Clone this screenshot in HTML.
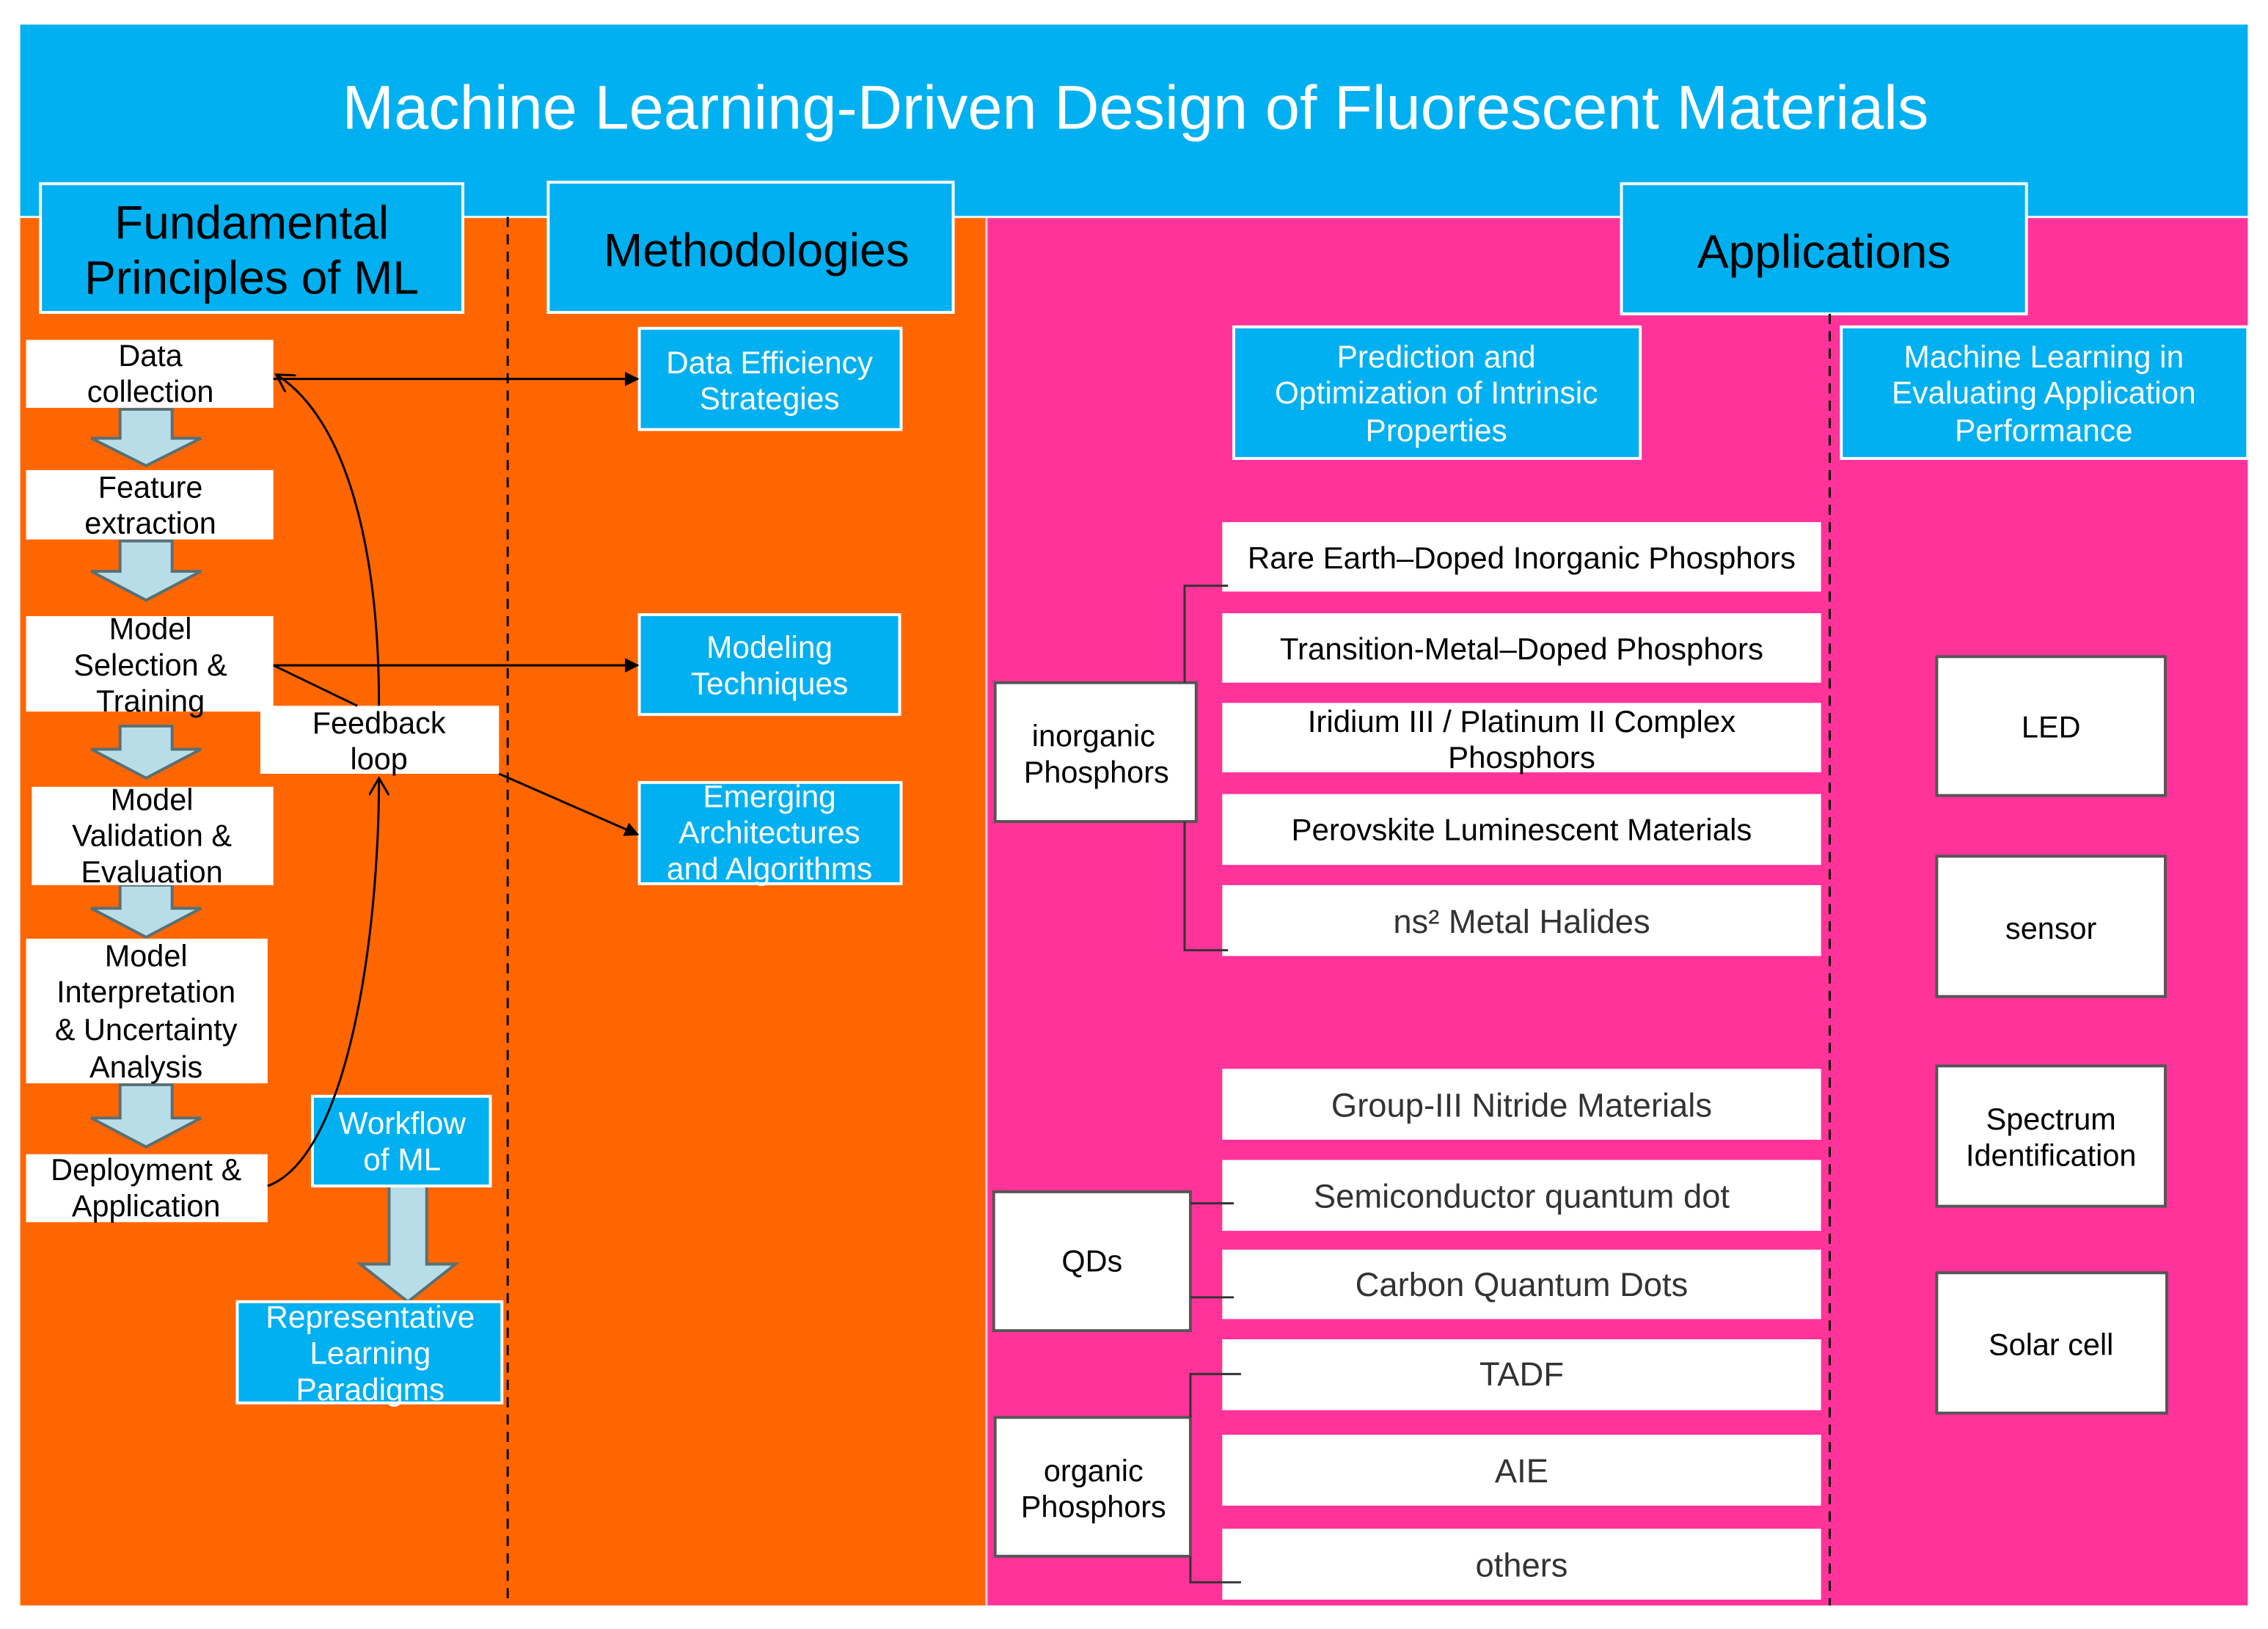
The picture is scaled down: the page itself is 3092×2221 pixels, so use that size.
<!DOCTYPE html>
<html><head><meta charset="utf-8"><style>
html,body{margin:0;padding:0;background:#fff;}
svg{display:block;}
text{font-family:"Liberation Sans",Arial,sans-serif;}
</style></head><body>
<svg width="3092" height="2221" viewBox="0 0 1568 1126.3" preserveAspectRatio="none" xmlns="http://www.w3.org/2000/svg">
<defs>
<marker id="ah" markerWidth="10" markerHeight="10" refX="9" refY="5" orient="auto" markerUnits="userSpaceOnUse"><path d="M0,0 L10,5 L0,10 z" fill="#000"/></marker>
<marker id="oa" markerWidth="14" markerHeight="14" refX="12" refY="7" orient="auto" markerUnits="userSpaceOnUse"><path d="M0,0 L12,7 L0,14" fill="none" stroke="#000" stroke-width="1.5"/></marker>
</defs>
<rect x="0" y="0" width="1568" height="1126.3" fill="#fff"/>
<rect x="14" y="17" width="1540" height="133" fill="#00B0F0"/>
<rect x="14" y="150" width="668" height="960" fill="#FF6600"/>
<rect x="682" y="150" width="872" height="960" fill="#FF3399"/>
<line x1="682" y1="150" x2="682" y2="1110" stroke="#ffd0e0" stroke-width="1.5"/>
<line x1="14" y1="150" x2="1554" y2="150" stroke="#fff" stroke-width="1.5"/>
<text x="785" y="89" font-size="43" fill="#fff" text-anchor="middle">Machine Learning-Driven Design of Fluorescent Materials</text>

<g fill="#00B0F0" stroke="#fff" stroke-width="2">
<rect x="28" y="127" width="292" height="89"/>
<rect x="379" y="126" width="280" height="90"/>
<rect x="1121" y="127" width="280" height="90"/>
</g>
<g font-size="32.5" fill="#000" text-anchor="middle">
<text x="174" y="165">Fundamental</text><text x="174" y="203">Principles of ML</text>
<text x="523" y="184">Methodologies</text>
<text x="1261" y="185">Applications</text>
</g>

<line x1="351" y1="150" x2="351" y2="1110" stroke="#000" stroke-width="1.5" stroke-dasharray="7,5"/>
<line x1="1265" y1="217" x2="1265" y2="1110" stroke="#000" stroke-width="1.5" stroke-dasharray="7,5"/>

<g fill="#B7DEE8" stroke="#5a6f73" stroke-width="2">
<path d="M83,283 H119 V303 H139 L101,322 L63,303 H83 Z"/>
<path d="M83,374 H119 V395 H139 L101,415 L63,395 H83 Z"/>
<path d="M83,502 H119 V518 H139 L101,538 L63,518 H83 Z"/>
<path d="M83,612 H119 V628 H139 L101,648 L63,628 H83 Z"/>
<path d="M83,750 H119 V773 H139 L101,793 L63,773 H83 Z"/>
<path d="M269,820 H295 V874 H315 L282,900 L249,874 H269 Z"/>
</g>

<g fill="#fff">
<rect x="18" y="235" width="171" height="47"/>
<rect x="18" y="325" width="171" height="48"/>
<rect x="18" y="426" width="171" height="66"/>
<rect x="22" y="544" width="167" height="68"/>
<rect x="18" y="649" width="167" height="100"/>
<rect x="18" y="798" width="167" height="47"/>
<rect x="180" y="488" width="165" height="47"/>
</g>
<g font-size="21" fill="#000" text-anchor="middle">
<text x="104" y="253">Data</text><text x="104" y="278">collection</text>
<text x="104" y="344">Feature</text><text x="104" y="369">extraction</text>
<text x="104" y="442">Model</text><text x="104" y="467">Selection &amp;</text><text x="104" y="492">Training</text>
<text x="105" y="560">Model</text><text x="105" y="585">Validation &amp;</text><text x="105" y="610">Evaluation</text>
<text x="101" y="668">Model</text><text x="101" y="693">Interpretation</text><text x="101" y="719">&amp; Uncertainty</text><text x="101" y="745">Analysis</text>
<text x="101" y="816">Deployment &amp;</text><text x="101" y="841">Application</text>
<text x="262" y="507">Feedback</text><text x="262" y="532">loop</text>
</g>

<g fill="#00B0F0" stroke="#fff" stroke-width="2">
<rect x="442" y="227" width="181" height="70"/>
<rect x="442" y="425" width="180" height="69"/>
<rect x="442" y="541" width="181" height="70"/>
<rect x="216" y="758" width="123" height="62"/>
<rect x="164" y="900" width="183" height="70"/>
<rect x="853" y="226" width="281" height="91"/>
<rect x="1273" y="226" width="281" height="91"/>
</g>
<g font-size="21.5" fill="#fff" text-anchor="middle">
<text x="532" y="258">Data Efficiency</text><text x="532" y="283">Strategies</text>
<text x="532" y="455">Modeling</text><text x="532" y="480">Techniques</text>
<text x="532" y="558">Emerging</text><text x="532" y="583">Architectures</text><text x="532" y="608">and Algorithms</text>
<text x="278" y="784">Workflow</text><text x="278" y="809">of ML</text>
<text x="256" y="918">Representative</text><text x="256" y="943">Learning</text><text x="256" y="968">Paradigms</text>
<text x="993" y="254">Prediction and</text><text x="993" y="279">Optimization of Intrinsic</text><text x="993" y="305">Properties</text>
<text x="1413" y="254">Machine Learning in</text><text x="1413" y="279">Evaluating Application</text><text x="1413" y="305">Performance</text>
</g>

<g stroke="#000" stroke-width="1.5" fill="none">
<line x1="189" y1="262" x2="441" y2="262" marker-end="url(#ah)"/>
<line x1="189" y1="460" x2="441" y2="460" marker-end="url(#ah)"/>
<line x1="189" y1="460" x2="247" y2="488"/>
<line x1="345" y1="535" x2="441" y2="577" marker-end="url(#ah)"/>
<path d="M262,488 C262,380 240,290 191,259" marker-end="url(#oa)"/>
<path d="M185,820 C240,800 262,650 262,538" marker-end="url(#oa)"/>
</g>

<g fill="#fff">
<rect x="845" y="361" width="414" height="48"/>
<rect x="845" y="424" width="414" height="48"/>
<rect x="845" y="486" width="414" height="48"/>
<rect x="845" y="549" width="414" height="49"/>
<rect x="845" y="612" width="414" height="49"/>
<rect x="845" y="739" width="414" height="49"/>
<rect x="845" y="802" width="414" height="49"/>
<rect x="845" y="864" width="414" height="48"/>
<rect x="845" y="926" width="414" height="49"/>
<rect x="845" y="992" width="414" height="49"/>
<rect x="845" y="1057" width="414" height="49"/>
</g>
<g font-size="21.3" fill="#000" text-anchor="middle">
<text x="1052" y="393">Rare Earth–Doped Inorganic Phosphors</text>
<text x="1052" y="456">Transition-Metal–Doped Phosphors</text>
<text x="1052" y="506">Iridium III / Platinum II Complex</text><text x="1052" y="531">Phosphors</text>
<text x="1052" y="581">Perovskite Luminescent Materials</text>
</g>
<g font-size="23" fill="#333" text-anchor="middle">
<text x="1052" y="645">ns² Metal Halides</text>
<text x="1052" y="772">Group-III Nitride Materials</text>
<text x="1052" y="835">Semiconductor quantum dot</text>
<text x="1052" y="896">Carbon Quantum Dots</text>
<text x="1052" y="958">TADF</text>
<text x="1052" y="1025">AIE</text>
<text x="1052" y="1090">others</text>
</g>

<g fill="#fff" stroke="#555" stroke-width="2">
<rect x="688" y="472" width="139" height="96"/>
<rect x="687" y="824" width="136" height="96"/>
<rect x="688" y="980" width="135" height="96"/>
<rect x="1339" y="454" width="158" height="96"/>
<rect x="1339" y="592" width="158" height="97"/>
<rect x="1339" y="737" width="158" height="97"/>
<rect x="1339" y="880" width="159" height="97"/>
</g>
<g stroke="#333" stroke-width="1.5" fill="none">
<path d="M849,405 H819 V472 M819,568 V657 H849"/>
<path d="M823,832 H853 M823,897 H853"/>
<path d="M858,950 H823 V980 M823,1076 V1094 H858"/>
</g>
<g font-size="21" fill="#000" text-anchor="middle">
<text x="756" y="516">inorganic</text><text x="758" y="541">Phosphors</text>
<text x="755" y="879">QDs</text>
<text x="756" y="1024">organic</text><text x="756" y="1049">Phosphors</text>
<text x="1418" y="510">LED</text>
<text x="1418" y="649">sensor</text>
<text x="1418" y="781">Spectrum</text><text x="1418" y="806">Identification</text>
<text x="1418" y="937">Solar cell</text>
</g>
</svg>
</body></html>
